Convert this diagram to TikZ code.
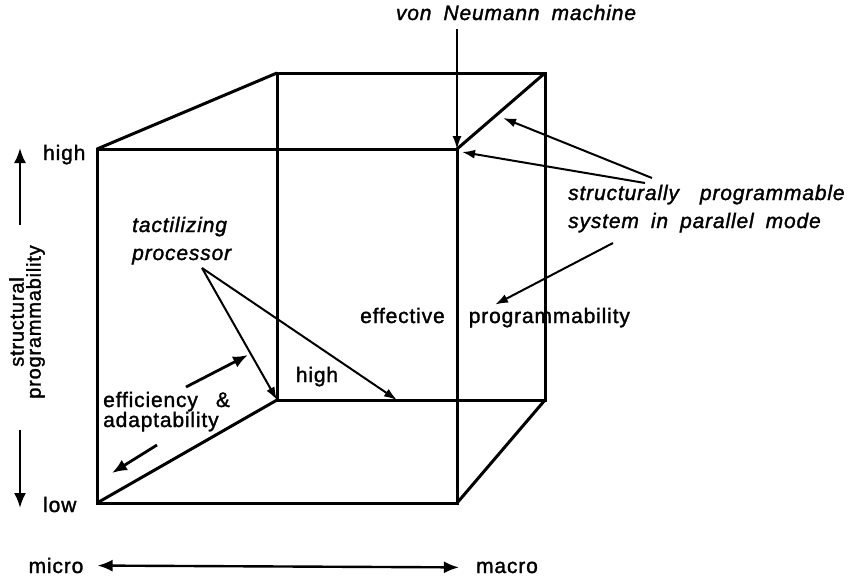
\documentclass[tikz,border=0pt]{standalone}
\usepackage{fontspec}
\setmainfont{Liberation Sans}[LetterSpace=4,WordSpace=1.8,FakeBold=1.5]
\usetikzlibrary{arrows.meta}

\begin{document}
\begin{tikzpicture}[x=1pt,y=-1pt,
  edge/.style={line width=3pt},
  note/.style={-{Latex[length=13pt,width=9pt]},line width=2pt},
  axis/.style={-{Latex[length=15pt,width=12pt]},line width=2.4pt},
  label/.style={font=\fontsize{21}{20}\selectfont,inner sep=3pt,align=left},
  remark/.style={font=\fontsize{21}{28}\selectfont\itshape,inner sep=3pt,align=left}]
\useasboundingbox (0,0) rectangle (848,576);

\coordinate (fTL) at (97,149);
\coordinate (fTR) at (457,149);
\coordinate (fBR) at (457,503);
\coordinate (fBL) at (97,503);
\coordinate (bTL) at (277,73);
\coordinate (bTR) at (545,73);
\coordinate (bBR) at (545,400);
\coordinate (bBL) at (277,400);

\draw[edge] (fTL) -- (fTR) -- (fBR) -- (fBL) -- cycle;
\draw[edge] (bTL) -- (bTR) -- (bBR) -- (bBL) -- cycle;
\foreach \c in {TL,TR,BR,BL}
  \draw[edge] (f\c) -- (b\c);

\path (516,20) node[remark,anchor=base] (vN) {von Neumann machine};
\draw[note,line width=1.5pt,shorten <=6pt] (vN.south -| fTR) -- (fTR);

\path (565,228) node[remark,anchor=base west] (sps) {structurally\hspace{9pt} programmable\\system in parallel mode};
\coordinate (spsUp) at (652,178);
\coordinate (spsMid) at (645,183);
\coordinate (spsLow) at (613,243);
\coordinate (diagTR) at (503,118);
\coordinate (nearTR) at (462,152);
\draw[note] (spsUp) -- (diagTR);
\draw[note] (spsMid) -- (nearTR);

\path (357,323) node[label,anchor=base west] (ep) {effective~~programmability};
\draw[note] (spsLow) -- (ep.north);

\path (129,260) node[remark,anchor=base west] (tp) {tactilizing\\processor};
\coordinate (tpTail) at (202,268);
\coordinate (backEdge) at (397,400);
\draw[note] (tpTail) -- (bBL);
\draw[note] (tpTail) -- (backEdge);

\path (317,382) node[label,anchor=base] (hi) {high};

\path (100,427) node[label,anchor=base west] (ea) {efficiency\hspace{6pt} \&\\adaptability};
\coordinate (eaUpTail) at (186,387);
\coordinate (eaUpTip) at (248,355);
\coordinate (eaDnTail) at (157,445);
\coordinate (eaDnTip) at (112,473);
\draw[axis,line width=2.8pt] (eaUpTail) -- (eaUpTip);
\draw[axis,line width=2.8pt] (eaDnTail) -- (eaDnTip);

\path (40,160) node[label,anchor=base west] (high) {high};
\path (40,512) node[label,anchor=base west] (low) {low};
\path (27,322) node[label,rotate=90,align=center,font=\fontsize{20}{17}\selectfont] (sp) {structural\\programmability};
\coordinate (upTail) at (20,225);
\coordinate (upTip) at (20,148);
\coordinate (dnTail) at (20,430);
\coordinate (dnTip) at (20,508);
\draw[axis] (upTail) -- (upTip);
\draw[axis] (dnTail) -- (dnTip);

\path (56,573) node[label,anchor=base] (micro) {micro};
\path (507,573) node[label,anchor=base] (macro) {macro};
\draw[axis,{Latex[length=15pt,width=12pt]}-{Latex[length=15pt,width=12pt]},shorten <=11pt,shorten >=14pt] (micro.east) -- (macro.west);
\end{tikzpicture}
\end{document}
